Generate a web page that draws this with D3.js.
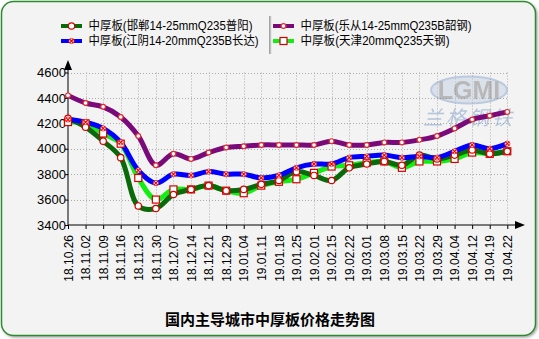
<!DOCTYPE html>
<html><head><meta charset="utf-8">
<script src="https://cdn.jsdelivr.net/npm/d3@7"></script>
<style>
html,body{margin:0;padding:0;background:#fff;}
svg{display:block;}
text{font-family:Arial,"Liberation Sans","Noto Sans CJK SC",sans-serif;}
</style></head>
<body>
<script>
const categories = ["18.10.26","18.11.02","18.11.09","18.11.16","18.11.23","18.11.30","18.12.07","18.12.14","18.12.21","18.12.29","19.01.04","19.01.11","19.01.18","19.01.25","19.02.01","19.02.15","19.02.22","19.03.01","19.03.08","19.03.15","19.03.22","19.03.29","19.04.04","19.04.12","19.04.19","19.04.22"];
const handan  = [4240,4170,4060,3930,3550,3530,3640,3680,3710,3670,3680,3720,3750,3820,3790,3750,3850,3880,3900,3870,3950,3920,3950,3990,3960,3980];
const lecong  = [4420,4360,4330,4250,4100,3870,3960,3920,3970,4010,4020,4030,4030,4030,4030,4060,4030,4030,4050,4050,4070,4100,4160,4230,4260,4290];
const jiangyin= [4230,4210,4160,4050,3830,3730,3800,3790,3820,3800,3800,3770,3790,3850,3880,3880,3930,3940,3950,3930,3940,3930,3980,4030,4000,4040];
const tianjin = [4210,4200,4120,4040,3770,3600,3680,3680,3710,3670,3650,3710,3740,3760,3810,3860,3870,3890,3900,3850,3900,3900,3920,3970,3960,3980];
const seriesNames = ["中厚板(邯郸14-25mmQ235普阳)","中厚板(乐从14-25mmQ235B韶钢)","中厚板(江阴14-20mmQ235B长达)","中厚板(天津20mmQ235天钢)"];
const yTicks = [3400,3600,3800,4000,4200,4400,4600];
const chartTitle = "国内主导城市中厚板价格走势图";

const W=539,H=339;
const svg=d3.select("body").append("svg").attr("width",W).attr("height",H);
const defs=svg.append("defs");
const f=defs.append("filter").attr("id","sh").attr("x","-5%").attr("y","-5%").attr("width","110%").attr("height","110%");
f.append("feDropShadow").attr("dx",1.5).attr("dy",1.5).attr("stdDeviation",1).attr("flood-color","#777").attr("flood-opacity",0.6);

svg.append("rect").attr("width",W).attr("height",H).attr("fill","#ffffff");
svg.append("rect").attr("x",1.5).attr("y",1.5).attr("width",W-5).attr("height",H-5).attr("rx",12)
  .attr("fill","#f3f3f3").attr("stroke","#2f8a2f").attr("stroke-width",1.5).attr("filter","url(#sh)");

const x=d3.scalePoint().domain(categories).range([68,507.3]);
const y=d3.scaleLinear().domain([3400,4600]).range([225,72.5]);

// grid
const grid=svg.append("g").attr("stroke","#aaa").attr("stroke-dasharray","1,2").attr("stroke-width",1);
grid.selectAll(".v").data(categories.slice(1)).join("line")
  .attr("x1",d=>Math.round(x(d))+0.5).attr("x2",d=>Math.round(x(d))+0.5).attr("y1",y(4600)).attr("y2",y(3400));
grid.selectAll(".h").data(yTicks.slice(1)).join("line")
  .attr("x1",68).attr("x2",x(categories[categories.length-1])).attr("y1",d=>Math.round(y(d))+0.5).attr("y2",d=>Math.round(y(d))+0.5);

// watermark
const wm=svg.append("g").attr("opacity",0.55);
wm.append("ellipse").attr("cx",469).attr("cy",90).attr("rx",38).attr("ry",13.5).attr("fill","#c8d4e4").attr("stroke","#8fa9cf").attr("stroke-width",2);
wm.append("text").attr("x",469).attr("y",99).attr("text-anchor","middle").attr("font-size",25).attr("font-weight","bold").attr("fill","#888").text("LGMI");
wm.append("text").attr("x",469).attr("y",125).attr("text-anchor","middle").attr("font-size",20).attr("font-style","italic").attr("fill","#7f9fc8").attr("letter-spacing",3).text("兰格钢铁");

// axes
const yAxis=svg.append("g").attr("transform","translate(68,0)")
  .call(d3.axisLeft(y).tickValues(yTicks).tickSize(3).tickFormat(d3.format("d")));
yAxis.select(".domain").attr("d","M0,225V66").attr("stroke","#000");
yAxis.selectAll("text").attr("font-size",13).attr("fill","#000").attr("x",-2);
const xAxis=svg.append("g").attr("transform","translate(0,225)")
  .call(d3.axisBottom(x).tickSize(4));
xAxis.select(".domain").attr("d","M68,0H518").attr("stroke","#000");
xAxis.selectAll("text").attr("font-size",12).attr("fill","#000")
  .attr("transform","rotate(-90)").attr("x",-10).attr("y",0).attr("dy","0.35em").style("text-anchor","end");
svg.append("path").attr("d","M68,60L64,70L72,70Z").attr("fill","#000");
svg.append("path").attr("d","M525,225L515,221L515,229Z").attr("fill","#000");

// lines
const line=d3.line().x((d,i)=>x(categories[i])).y(d=>y(d)).curve(d3.curveCatmullRom.alpha(0.5));
const series=[
  {name:seriesNames[3],vals:tianjin,color:"#11ee11",mk:"square"},
  {name:seriesNames[0],vals:handan,color:"#0a6a0a",mk:"circle"},
  {name:seriesNames[2],vals:jiangyin,color:"#0000ff",mk:"x"},
  {name:seriesNames[1],vals:lecong,color:"#7a0a7a",mk:"dot"}
];
series.forEach(s=>{
  svg.append("path").datum(s.vals).attr("d",line).attr("fill","none").attr("stroke",s.color).attr("stroke-width",5).attr("stroke-linejoin","round");
});
function marker(g,mk,cx,cy){
  if(mk==="square") g.append("rect").attr("x",cx-3.5).attr("y",cy-3.5).attr("width",7).attr("height",7).attr("fill","#fff").attr("stroke","#d40000").attr("stroke-width",1.2);
  else if(mk==="circle") g.append("circle").attr("cx",cx).attr("cy",cy).attr("r",3.2).attr("fill","#fff").attr("stroke","#d40000").attr("stroke-width",1.2);
  else if(mk==="x"){ g.append("circle").attr("cx",cx).attr("cy",cy).attr("r",2.6).attr("fill","#fff").attr("stroke","#e02020").attr("stroke-width",0.8);
    g.append("path").attr("d",`M${cx-2},${cy-2}L${cx+2},${cy+2}M${cx-2},${cy+2}L${cx+2},${cy-2}`).attr("stroke","#e00").attr("stroke-width",1.1);}
  else { g.append("circle").attr("cx",cx).attr("cy",cy).attr("r",2.4).attr("fill","#fff").attr("stroke","#e03030").attr("stroke-width",1.2); }
}
series.forEach(s=>{
  const g=svg.append("g");
  s.vals.forEach((v,i)=>marker(g,s.mk,x(categories[i]),y(v)));
});

// legend
const leg=[
  {name:seriesNames[0],color:"#0a6a0a",mk:"circle",lx:61,ty:26,tl:164},
  {name:seriesNames[2],color:"#0000ff",mk:"x",lx:61,ty:41,tl:170},
  {name:seriesNames[1],color:"#7a0a7a",mk:"dot",lx:273,ty:26,tl:171},
  {name:seriesNames[3],color:"#11ee11",mk:"square",lx:273,ty:41,tl:149}
];
leg.forEach(l=>{
  const g=svg.append("g");
  g.append("line").attr("x1",l.lx).attr("x2",l.lx+21).attr("y1",l.ty).attr("y2",l.ty).attr("stroke",l.color).attr("stroke-width",4);
  marker(g,l.mk,l.lx+10.5,l.ty);
  g.append("text").attr("x",l.lx+27.5).attr("y",l.ty).attr("dy","0.36em").attr("font-size",12).attr("fill","#000")
    .attr("textLength",l.tl).attr("lengthAdjust","spacingAndGlyphs").text(l.name);
});
svg.append("line").attr("x1",270).attr("x2",270).attr("y1",16).attr("y2",54).attr("stroke","#555").attr("stroke-width",1);
svg.append("line").attr("x1",271).attr("x2",271).attr("y1",16).attr("y2",54).attr("stroke","#ddd").attr("stroke-width",1);

svg.append("text").attr("x",270).attr("y",320).attr("dy","0.35em").attr("text-anchor","middle")
  .attr("font-size",15).attr("font-weight","bold").attr("fill","#000").style("font-family","'Noto Sans CJK SC',sans-serif").text(chartTitle);
</script>
</body></html>
